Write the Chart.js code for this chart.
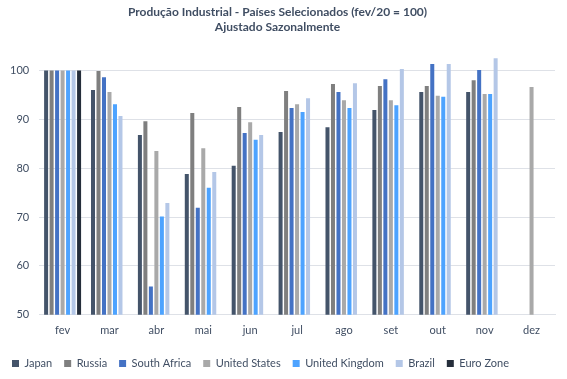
<!DOCTYPE html>
<html>
<head>
<meta charset="utf-8">
<script src="https://cdn.jsdelivr.net/npm/chart.js@4/dist/chart.umd.min.js"></script>
<style>
html,body{margin:0;padding:0;background:#fff;}
#wrap{width:567px;height:379px;position:relative;}
</style>
</head>
<body>
<div id="wrap"><canvas id="c" width="567" height="379"></canvas></div>
<script>
const categories = ['fev','mar','abr','mai','jun','jul','ago','set','out','nov','dez'];
const japan = [100, 96.0, 86.8, 78.8, 80.5, 87.4, 88.4, 91.9, 95.6, 95.6, null];
const russia = [100, 99.9, 89.6, 91.3, 92.5, 95.8, 97.2, 96.8, 96.8, 98.0, null];
const southAfrica = [100, 98.6, 55.8, 71.9, 87.2, 92.3, 95.6, 98.2, 101.3, 100.1, null];
const unitedStates = [100, 95.6, 83.5, 84.1, 89.4, 93.1, 93.9, 93.9, 94.8, 95.2, 96.6];
const unitedKingdom = [100, 93.1, 70.1, 76.0, 85.8, 91.5, 92.3, 92.9, 94.6, 95.2, null];
const brazil = [100, 90.7, 72.9, 79.2, 86.8, 94.3, 97.4, 100.3, 101.3, 102.5, null];
const euroZone = [100, null, null, null, null, null, null, null, null, null, null];

const seriesNames = ['Japan','Russia','South Africa','United States','United Kingdom','Brazil','Euro Zone'];
const seriesData = [japan, russia, southAfrica, unitedStates, unitedKingdom, brazil, euroZone];
const seriesColors = ['#44546A','#7F7F7F','#4472C4','#A9A9A9','#4DA3FF','#B4C7E7','#252E3B'];

const FONT = 'Lato, "Open Sans", sans-serif';
const TXT = '#404E63';
const GRID = '#DEE1E7';

new Chart(document.getElementById('c'), {
  type: 'bar',
  data: {
    labels: categories,
    datasets: seriesData.map((d, i) => ({
      label: seriesNames[i],
      data: d,
      backgroundColor: seriesColors[i],
      borderWidth: 0,
      categoryPercentage: 0.82,
      barPercentage: 0.73
    }))
  },
  options: {
    responsive: false,
    animation: false,
    devicePixelRatio: 1,
    layout: { padding: { left: 0, right: 12, top: 0, bottom: 0 } },
    plugins: {
      title: {
        display: true,
        text: ['Produção Industrial - Países Selecionados (fev/20 = 100)', 'Ajustado Sazonalmente'],
        color: TXT,
        font: { family: FONT, size: 12, weight: 'bold', lineHeight: 1.25 },
        padding: { top: 5, bottom: 11 }
      },
      legend: {
        position: 'bottom',
        align: 'start',
        labels: {
          color: TXT,
          font: { family: FONT, size: 11 },
          boxWidth: 7,
          boxHeight: 7,
          padding: 12
        }
      },
      tooltip: { enabled: false }
    },
    scales: {
      x: {
        grid: { display: false, drawTicks: false },
        border: { display: true, color: GRID, width: 1 },
        ticks: { color: TXT, font: { family: FONT, size: 11 }, padding: 9 }
      },
      y: {
        min: 50,
        max: 105,
        afterBuildTicks: (axis) => { axis.ticks = axis.ticks.filter(t => t.value <= 100); },
        grid: { color: GRID, drawTicks: false, lineWidth: 1 },
        border: { display: false },
        ticks: { stepSize: 10, color: TXT, font: { family: FONT, size: 11 }, padding: 10 }
      }
    }
  }
});
</script>
</body>
</html>
